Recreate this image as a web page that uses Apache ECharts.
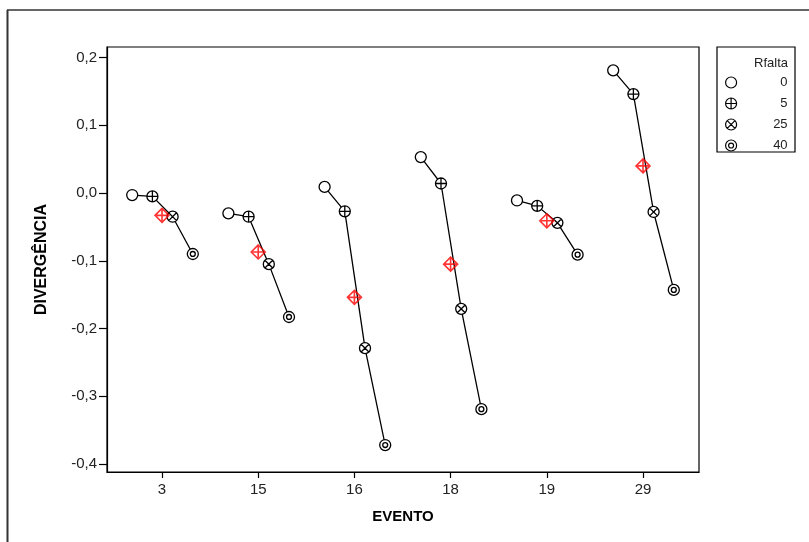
<!DOCTYPE html>
<html>
<head>
<meta charset="utf-8">
<script src="https://cdn.jsdelivr.net/npm/echarts@6/dist/echarts.min.js"></script>
<style>html,body{margin:0;padding:0;background:#fff}#c{width:809px;height:542px}</style>
</head>
<body>
<div id="c"></div>
<script>
var eventos = ['3', '15', '16', '18', '19', '29'];
var rfalta = ['0', '5', '25', '40'];
var rf0  = [-0.003, -0.030,  0.009,  0.053, -0.011,  0.181];
var rf5  = [-0.005, -0.035, -0.027,  0.014, -0.019,  0.146];
var rf25 = [-0.035, -0.105, -0.229, -0.171, -0.044, -0.028];
var rf40 = [-0.090, -0.183, -0.372, -0.319, -0.091, -0.143];
var medias = [-0.033, -0.087, -0.154, -0.105, -0.041, 0.040];
var yTicks = [-0.4, -0.3, -0.2, -0.1, 0.0, 0.1, 0.2];

var levels = [rf0, rf5, rf25, rf40];
var offsets = [-0.31, -0.1, 0.11, 0.32];
var circ = 'M10 0 A10 10 0 1 1 10 20 A10 10 0 1 1 10 0 Z';
var symbols = [
  'path://' + circ,
  'path://' + circ + ' M0 10 L20 10 M10 0 L10 20',
  'path://' + circ + ' M2.93 2.93 L17.07 17.07 M17.07 2.93 L2.93 17.07',
  'path://' + circ + ' M10 5.5 A4.5 4.5 0 1 1 10 14.5 A4.5 4.5 0 1 1 10 5.5 Z'
];
var diamond = 'path://M10 0 L20 10 L10 20 L0 10 Z M2 10 L18 10 M10 2 L10 18';

var series = [];
eventos.forEach(function (ev, i) {
  series.push({
    type: 'line', silent: true, symbol: 'none', z: 2,
    lineStyle: { color: '#000', width: 1.3 },
    data: levels.map(function (arr, k) { return [i + offsets[k], arr[i]]; })
  });
});
levels.forEach(function (arr, k) {
  series.push({
    type: 'scatter', name: rfalta[k], symbol: symbols[k], symbolSize: 11, z: 3,
    itemStyle: { color: '#fff', borderColor: '#000', borderWidth: 1.3, opacity: 1 },
    data: arr.map(function (v, i) { return [i + offsets[k], v]; })
  });
});
series.push({
  type: 'scatter', name: 'media', symbol: diamond, symbolSize: 14, z: 4,
  itemStyle: { color: 'rgba(0,0,0,0)', borderColor: '#ff0000', borderWidth: 1.6 },
  data: medias.map(function (v, i) { return [i, v]; })
});

var font = '"Liberation Sans", Arial, sans-serif';
var chart = echarts.init(document.getElementById('c'));
chart.setOption({
  animation: false,
  backgroundColor: '#fff',
  grid: { left: 107, top: 47, width: 592, height: 425, show: true, borderColor: '#000', borderWidth: 1.2, backgroundColor: 'transparent' },
  xAxis: {
    type: 'value', min: -0.572, max: 5.582,
    name: 'EVENTO', nameLocation: 'middle', nameGap: 37,
    nameTextStyle: { fontFamily: font, fontWeight: 'bold', fontSize: 15, color: '#000' },
    axisLine: { onZero: false, lineStyle: { color: '#000', width: 1.2 } },
    axisTick: { show: true, length: 6, lineStyle: { color: '#000', width: 1.2 }, customValues: [0, 1, 2, 3, 4, 5] },
    axisLabel: { fontFamily: font, fontSize: 15, color: '#222', margin: 10, customValues: [0, 1, 2, 3, 4, 5],
      formatter: function (v) { return eventos[Math.round(v)]; } },
    splitLine: { show: false }
  },
  yAxis: {
    type: 'value', min: -0.4118, max: 0.2155,
    name: 'DIVERGÊNCIA', nameLocation: 'middle', nameGap: 57, nameRotate: 90,
    nameTextStyle: { fontFamily: font, fontWeight: 'bold', fontSize: 16, color: '#000' },
    axisLine: { show: true, onZero: false, lineStyle: { color: '#000', width: 1.2 } },
    axisTick: { show: true, length: 8, lineStyle: { color: '#000', width: 1.2 }, customValues: yTicks },
    axisLabel: { fontFamily: font, fontSize: 15, color: '#222', margin: 10, customValues: yTicks,
      formatter: function (v) { return v.toFixed(1).replace('.', ','); } },
    splitLine: { show: false }
  },
  legend: {
    data: rfalta, orient: 'vertical', left: 725, top: 76,
    itemWidth: 11, itemHeight: 11, itemGap: 8, padding: 0,
    itemStyle: { borderWidth: 1.2 },
    formatter: function (n) { return '{a|' + n + '}'; },
    textStyle: { fontFamily: font, fontSize: 13, color: '#222',
      rich: { a: { width: 46, align: 'right', fontFamily: font, fontSize: 13, color: '#222' } } }
  },
  graphic: [
    { type: 'line', shape: { x1: 7, y1: 10, x2: 809, y2: 10 }, style: { stroke: '#333', lineWidth: 1.5 } },
    { type: 'line', shape: { x1: 7.5, y1: 10, x2: 7.5, y2: 542 }, style: { stroke: '#333', lineWidth: 2 } },
    { type: 'rect', shape: { x: 717, y: 47, width: 78, height: 105 }, style: { fill: 'none', stroke: '#000', lineWidth: 1.2 } },
    { type: 'text', x: 788, y: 63, style: { text: 'Rfalta', fontFamily: font, fontSize: 13, fill: '#222', textAlign: 'right', textVerticalAlign: 'middle' } }
  ],
  series: series
});
</script>
</body>
</html>
